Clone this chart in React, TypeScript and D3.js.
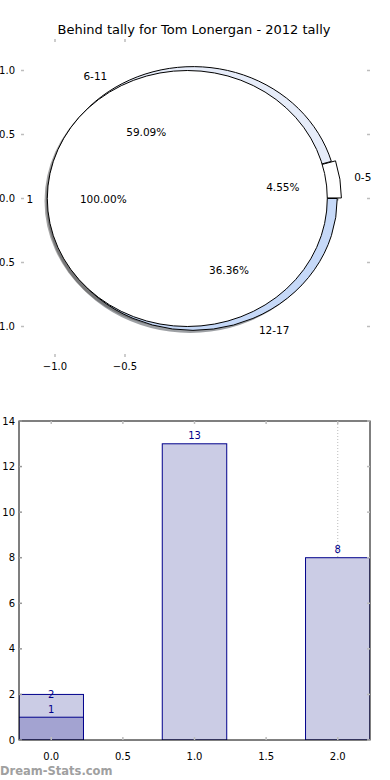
import React from 'react';
import * as d3 from 'd3';

// pie data
const outerLabels = ['0-5', '6-11', '12-17'];
const outerValues = [1, 13, 8];
const outerColors = ['#ffffff', '#e6ecf9', '#c6d9f8'];
const outerExplode = [0.03, 0, 0];
const innerLabels = ['1'];
const innerValues = [1];
const innerColors = ['#ffffff'];

// pie axis ticks
const pieYTicks = [1.0, 0.5, 0.0, -0.5, -1.0];
const pieXTicks = [-1.0, -0.5];

// bar data
const barCats = [0, 1, 2];
const lightValues = [2, 13, 8];
const darkValues = [1, 0, 0];
const barYTicks = [0, 2, 4, 6, 8, 10, 12, 14];
const barXTicks = [0.0, 0.5, 1.0, 1.5, 2.0];

const W = 390;
const H = 780;
const font = 'DejaVu Sans, Liberation Sans, sans-serif';
const fmtTick = (v: number) => d3.format('.1f')(v).replace('-', '\u2212');

const shade = (c: string) => {
  const col = d3.rgb(c);
  return d3.rgb(col.r * 0.3, col.g * 0.3, col.b * 0.3).toString();
};

function PieChart() {
  // top axes box
  const box = { left: 21, right: 370, top: 39, bottom: 357 };
  const x = d3.scaleLinear().domain([-1, 1]).range([55, 335]);
  const y = d3.scaleLinear().domain([-1, 1]).range([326.5, 70.5]);
  const kx = x(1) - x(0);
  const ky = y(0) - y(1);

  const pieGen = d3.pie<number>().sort(null).startAngle(Math.PI / 2).endAngle(Math.PI / 2 - 2 * Math.PI);

  const layers = [
    { center: -0.014, radius: 1.03, values: outerValues, labels: outerLabels, colors: outerColors, explode: outerExplode, total: d3.sum(outerValues) },
    { center: -0.055, radius: 1.0, values: innerValues, labels: innerLabels, colors: innerColors, explode: [0], total: d3.sum(innerValues) },
  ];

  const built = layers.map((L) => {
    const arcs = pieGen(L.values);
    const arc = d3.arc<any>().innerRadius(0).outerRadius(L.radius);
    return arcs.map((a, i) => {
      const mid = (a.startAngle + a.endAngle) / 2;
      const theta = Math.PI / 2 - mid; // matplotlib angle
      const cos = Math.cos(theta);
      const sin = Math.sin(theta);
      const e = L.explode[i] || 0;
      const cx = L.center + e * cos;
      const cy = e * sin;
      return {
        path: arc(a) as string,
        color: L.colors[i],
        cx,
        cy,
        lx: cx + 1.1 * L.radius * cos,
        ly: cy + 1.1 * L.radius * sin,
        px: cx + 0.6 * L.radius * cos,
        py: cy + 0.6 * L.radius * sin,
        label: L.labels[i],
        pct: d3.format('.2f')((L.values[i] / L.total) * 100) + '%',
        anchor: cos < 0 ? 'end' : 'start',
      };
    });
  });
  const all = built.flat();

  const tr = (cx: number, cy: number, dx = 0, dy = 0) =>
    `translate(${x(cx + dx)},${y(cy + dy)}) scale(${kx},${ky})`;

  return (
    <g>
      <text x={W / 2 - 1} y={34} textAnchor="middle" fontSize={13} fontFamily={font}>
        Behind tally for Tom Lonergan - 2012 tally
      </text>
      {/* shadows */}
      {all.map((w, i) => (
        <path key={'s' + i} d={w.path} transform={tr(w.cx, w.cy, -0.02, -0.02)} fill={shade(w.color)} opacity={0.5} />
      ))}
      {/* wedges */}
      {all.map((w, i) => (
        <path key={'w' + i} d={w.path} transform={tr(w.cx, w.cy)} fill={w.color} stroke="#000" strokeWidth={1} vectorEffect="non-scaling-stroke" strokeLinejoin="round" />
      ))}
      {all.map((w, i) => (
        <g key={'t' + i} fontFamily={font} fontSize={10.5}>
          <text x={x(w.lx)} y={y(w.ly)} textAnchor={w.anchor} dominantBaseline="central">{w.label}</text>
          <text x={x(w.px)} y={y(w.py)} textAnchor="middle" dominantBaseline="central">{w.pct}</text>
        </g>
      ))}
      {/* ticks */}
      {pieYTicks.map((t) => (
        <g key={'py' + t}>
          <line x1={box.left} x2={box.left + 3} y1={y(t)} y2={y(t)} stroke="#bdbdbd" strokeWidth={1.5} />
          <line x1={box.right - 3} x2={box.right} y1={y(t)} y2={y(t)} stroke="#bdbdbd" strokeWidth={1.5} />
          <text x={15} y={y(t)} textAnchor="end" dominantBaseline="central" fontSize={10} fontFamily={font}>{fmtTick(t)}</text>
        </g>
      ))}
      {pieXTicks.map((t) => (
        <g key={'px' + t}>
          <line x1={x(t)} x2={x(t)} y1={box.top} y2={box.top + 3} stroke="#bdbdbd" strokeWidth={1.5} />
          <line x1={x(t)} x2={x(t)} y1={box.bottom - 3} y2={box.bottom} stroke="#bdbdbd" strokeWidth={1.5} />
          <text x={x(t)} y={366} textAnchor="middle" dominantBaseline="central" fontSize={10} fontFamily={font}>{fmtTick(t)}</text>
        </g>
      ))}
    </g>
  );
}

function BarChart() {
  const box = { left: 19, right: 370, top: 421, bottom: 740 };
  const width = 0.45;
  const x = d3.scaleLinear().domain([-0.225, 2.225]).range([box.left, box.right]);
  const y = d3.scaleLinear().domain([0, 14]).range([box.bottom, box.top]);
  const navy = '#00008b';

  return (
    <g>
      <defs>
        <clipPath id="barclip">
          <rect x={box.left} y={box.top} width={box.right - box.left} height={box.bottom - box.top} />
        </clipPath>
      </defs>
      <line x1={x(2)} x2={x(2)} y1={box.top} y2={box.bottom} stroke="#bbbbbb" strokeDasharray="1,2" />
      <g clipPath="url(#barclip)">
        {barCats.map((c, i) => (
          <rect key={'l' + i} x={x(c - width / 2)} y={y(lightValues[i])} width={x(c + width / 2) - x(c - width / 2)} height={y(0) - y(lightValues[i])} fill="#cbcce5" stroke={navy} strokeWidth={1} />
        ))}
        {barCats.map((c, i) =>
          darkValues[i] > 0 ? (
            <rect key={'d' + i} x={x(c - width / 2)} y={y(darkValues[i])} width={x(c + width / 2) - x(c - width / 2)} height={y(0) - y(darkValues[i])} fill="#a3a3d1" stroke={navy} strokeWidth={1} />
          ) : null
        )}
      </g>
      {barCats.map((c, i) => (
        <text key={'lt' + i} x={x(c)} y={i === 0 ? y(lightValues[i]) + 4 : y(lightValues[i]) - 5} textAnchor="middle" fontSize={10} fontFamily={font} fill={navy}>
          {lightValues[i]}
        </text>
      ))}
      {barCats.map((c, i) =>
        darkValues[i] > 0 ? (
          <text key={'dt' + i} x={x(c)} y={y(darkValues[i]) - 4} textAnchor="middle" fontSize={10} fontFamily={font} fill={navy}>
            {darkValues[i]}
          </text>
        ) : null
      )}
      <rect x={box.left} y={box.top} width={box.right - box.left} height={box.bottom - box.top} fill="none" stroke="#000" strokeWidth={1} />
      {barYTicks.map((t) => (
        <g key={'by' + t}>
          <line x1={box.left} x2={box.left + 3} y1={y(t)} y2={y(t)} stroke="#999" strokeWidth={1.5} />
          <line x1={box.right - 3} x2={box.right} y1={y(t)} y2={y(t)} stroke="#bdbdbd" strokeWidth={1.5} />
          <text x={15} y={y(t)} textAnchor="end" dominantBaseline="central" fontSize={10} fontFamily={font}>{t}</text>
        </g>
      ))}
      {barXTicks.map((t) => (
        <g key={'bx' + t}>
          <line x1={x(t)} x2={x(t)} y1={box.top} y2={box.top + 3} stroke="#bdbdbd" strokeWidth={1.5} />
          <line x1={x(t)} x2={x(t)} y1={box.bottom - 3} y2={box.bottom} stroke="#bdbdbd" strokeWidth={1.5} />
          <text x={x(t)} y={756} textAnchor="middle" dominantBaseline="central" fontSize={10} fontFamily={font}>{fmtTick(t)}</text>
        </g>
      ))}
      <text x={0} y={775} fontSize={11.5} fontWeight="bold" fontFamily={font} fill="#a0a0a0">Dream-Stats.com</text>
    </g>
  );
}

export default function App() {
  return (
    <svg width={W} height={H} style={{ position: 'absolute', left: 0, top: 0, background: '#fff' }}>
      <PieChart />
      <BarChart />
    </svg>
  );
}
